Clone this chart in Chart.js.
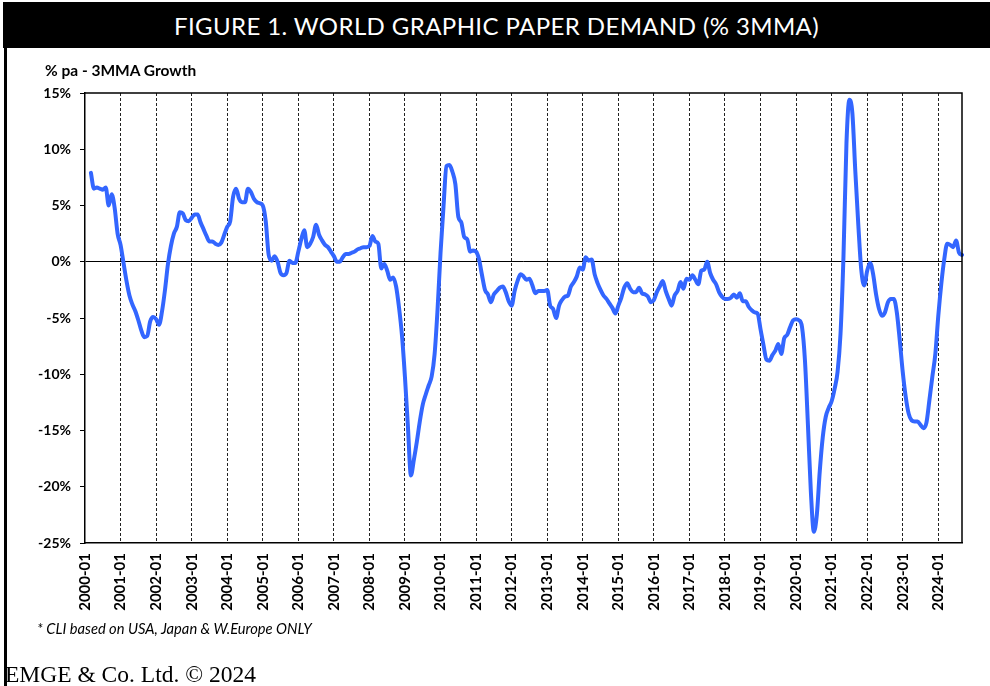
<!DOCTYPE html>
<html>
<head>
<meta charset="utf-8">
<script src="https://cdn.jsdelivr.net/npm/chart.js@4.4.0/dist/chart.umd.min.js"></script>
<style>
  html, body { margin: 0; padding: 0; background: #fff; }
  #wrap { position: relative; width: 990px; height: 686px; overflow: hidden; }
  #chart { position: absolute; left: 0; top: 0; }
  .titlebar {
    position: absolute; left: 3px; top: 2px; width: 987px; height: 46px;
    background: #000; color: #fff; text-align: center; overflow: hidden;
    font: 400 24px Lato, sans-serif; line-height: 47px; letter-spacing: 0.4px;
  }
  .leftrule { position: absolute; left: 4px; top: 48px; width: 3px; height: 638px; background: #000; }
  .ytitle { position: absolute; left: 45px; top: 61px; font: 700 15.5px Lato, sans-serif; color: #000; }
  .note { position: absolute; left: 37px; top: 619px; font: italic 400 14.7px Lato, sans-serif; color: #000; }
  .credit { position: absolute; left: 5px; top: 661px; font: 400 23.5px "Liberation Serif", serif; color: #000; }
</style>
</head>
<body>
<div id="wrap">
  <canvas id="chart" width="990" height="686"></canvas>
  <div class="titlebar">FIGURE 1. WORLD GRAPHIC PAPER DEMAND (% 3MMA)</div>
  <div class="leftrule"></div>
  <div class="ytitle">% pa - 3MMA Growth</div>
  <div class="note">* CLI based on USA, Japan &amp; W.Europe ONLY</div>
  <div class="credit">EMGE &amp; Co. Ltd. © 2024</div>
</div>
<script>
// monthly axis: 2000-01 .. 2024-09
const startYear = 2000;
const lastYear = 2024;
const lastMonth = 9;

const yMin = -25;
const yMax = 15;
const yStep = 5;

// % pa, 3MMA growth (one row per year)
const demand = [
  null, null, 7.9, 6.5, 6.6, 6.5, 6.4, 6.6, 5.0, 6.0, 4.8, 2.5,
  1.5, -0.1, -1.7, -3.0, -3.8, -4.4, -5.2, -6.1, -6.7, -6.6, -5.3, -4.9,
  -5.1, -5.6, -4.4, -2.5, -0.2, 1.4, 2.5, 3.1, 4.4, 4.3, 3.7, 3.6,
  3.9, 4.2, 4.2, 3.5, 2.9, 2.3, 1.8, 1.8, 1.6, 1.5, 1.7, 2.4,
  3.1, 3.6, 5.8, 6.5, 5.6, 5.3, 5.3, 6.5, 6.2, 5.6, 5.3, 5.2,
  5.0, 3.6, 0.6, 0.1, 0.5, 0.0, -1.0, -1.2, -1.0, 0.1, -0.1, -0.1,
  0.9, 2.0, 2.8, 1.3, 1.6, 2.2, 3.3, 2.4, 1.9, 1.5, 1.3, 0.9,
  0.5, 0.0, 0.0, 0.4, 0.7, 0.7, 0.8, 0.9, 1.1, 1.2, 1.3, 1.3,
  1.4, 2.3, 1.8, 1.6, -0.6, -0.2, -0.8, -1.6, -1.4, -2.2, -4.1, -6.6,
  -10.3, -14.7, -19.0, -17.6, -16.0, -14.2, -12.7, -11.8, -11.0, -10.2, -8.2, -4.2,
  0.8, 4.9, 8.5, 8.6, 8.0, 6.9, 4.0, 3.5, 2.2, 2.0, 0.9, 1.0,
  0.9, 0.2, -1.2, -2.5, -2.9, -3.6, -2.9, -2.6, -2.3, -2.2, -2.7, -3.5,
  -3.9, -2.6, -1.7, -1.1, -1.3, -1.6, -1.5, -2.1, -2.8, -2.6, -2.6, -2.6,
  -2.5, -3.9, -4.2, -5.0, -3.9, -3.4, -3.1, -3.0, -2.2, -1.8, -1.3, -0.5,
  -0.7, 0.4, 0.1, 0.2, -1.1, -1.9, -2.5, -3.0, -3.3, -3.7, -4.1, -4.6,
  -3.9, -3.2, -2.3, -1.9, -2.4, -2.7, -2.7, -2.3, -2.8, -2.9, -3.1, -3.6,
  -3.4, -2.7, -2.2, -1.7, -2.6, -3.3, -3.9, -3.0, -2.6, -1.8, -2.4, -1.5,
  -1.6, -1.2, -1.6, -2.0, -0.8, -0.7, 0.0, -1.0, -1.6, -2.0, -2.7, -3.1,
  -3.3, -3.3, -3.2, -2.9, -3.2, -2.8, -3.5, -3.5, -4.0, -4.3, -4.5, -4.6,
  -6.0, -7.4, -8.7, -8.8, -8.3, -7.9, -7.3, -8.2, -6.8, -6.5, -5.8, -5.2,
  -5.1, -5.2, -5.8, -8.8, -14.5, -20.5, -24.0, -22.5, -18.6, -15.6, -13.8, -13.0,
  -12.4, -11.3, -9.8, -6.4, 0.5, 10.5, 14.4, 13.2, 8.0, 3.3, -0.7, -2.1,
  -0.8, -0.1, -1.1, -2.9, -4.2, -4.8, -4.5, -3.6, -3.3, -3.3, -4.5, -7.0,
  -9.8, -12.0, -13.5, -14.1, -14.2, -14.2, -14.5, -14.8, -14.3, -12.3, -10.2, -8.2,
  -4.8, -2.0, 0.2, 1.6, 1.5, 1.3, 1.9, 0.8, 0.6
];

const months = [];
for (let y = startYear; y <= lastYear; y++) {
  for (let m = 1; m <= 12; m++) {
    if (y === lastYear && m > lastMonth) break;
    months.push(y + '-' + String(m).padStart(2, '0'));
  }
}

const isYearStart = i => months[i] && months[i].endsWith('-01');

// top + right edge of the plot box
const frame = {
  id: 'frame',
  afterDraw(chart) {
    const { ctx, chartArea: a } = chart;
    ctx.save();
    ctx.strokeStyle = '#000';
    ctx.lineWidth = 1.5;
    ctx.beginPath();
    ctx.moveTo(a.left, a.top);
    ctx.lineTo(a.right, a.top);
    ctx.lineTo(a.right, a.bottom);
    ctx.stroke();
    ctx.restore();
  }
};

new Chart(document.getElementById('chart'), {
  type: 'line',
  data: {
    labels: months,
    datasets: [{
      data: demand,
      borderColor: '#3366ff',
      borderWidth: 4,
      pointRadius: 0,
      cubicInterpolationMode: 'monotone',
      borderCapStyle: 'round',
      borderJoinStyle: 'round',
      spanGaps: true
    }]
  },
  options: {
    responsive: false,
    animation: false,
    devicePixelRatio: 1,
    layout: { padding: { top: 93, right: 22, left: 0, bottom: 0 } },
    plugins: { legend: { display: false }, tooltip: { enabled: false } },
    scales: {
      x: {
        type: 'category',
        offset: false,
        afterFit(scale) { scale.height = 143; },
        grid: {
          drawTicks: false,
          lineWidth: 1,
          color: ctx => (ctx.index > 0 && isYearStart(ctx.index)) ? '#222' : 'rgba(0,0,0,0)'
        },
        border: { display: true, color: '#000', width: 1.5, dash: [3, 2] },
        ticks: {
          autoSkip: false,
          minRotation: 90,
          maxRotation: 90,
          padding: 10,
          color: '#000',
          font: { family: 'Lato', weight: 'bold', size: 15 },
          callback(value, index) { return isYearStart(index) ? months[index] : ''; }
        }
      },
      y: {
        min: yMin,
        max: yMax,
        afterFit(scale) { scale.width = 85; },
        grid: {
          drawTicks: true,
          tickLength: 5,
          tickColor: '#000',
          lineWidth: 1,
          color: ctx => (ctx.tick && ctx.tick.value === 0) ? '#000' : 'rgba(0,0,0,0)'
        },
        border: { display: true, color: '#000', width: 1.5 },
        ticks: {
          stepSize: yStep,
          padding: 9,
          color: '#000',
          font: { family: 'Lato', weight: 'bold', size: 14 },
          callback: v => v + '%'
        }
      }
    }
  },
  plugins: [frame]
});
</script>
</body>
</html>
